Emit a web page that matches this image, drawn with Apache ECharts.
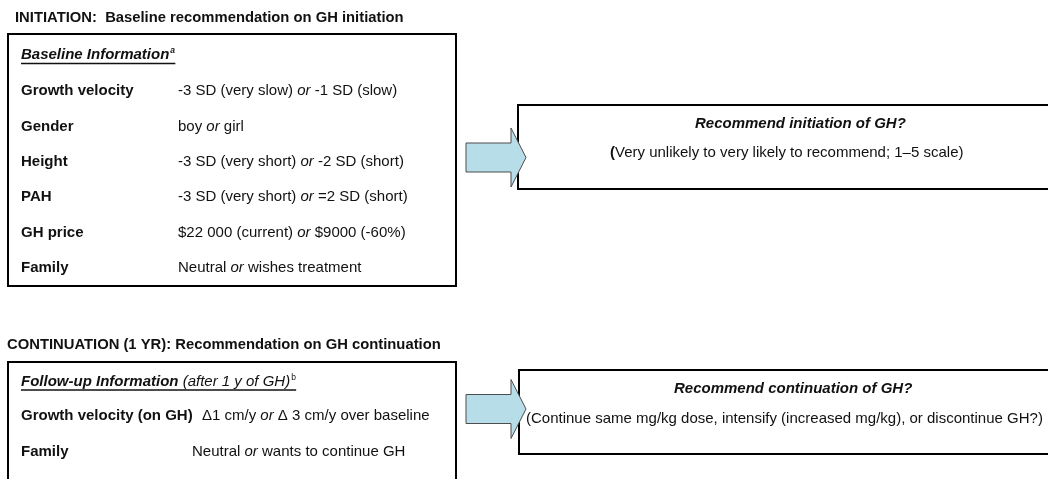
<!DOCTYPE html>
<html>
<head>
<meta charset="utf-8">
<script src="https://cdn.jsdelivr.net/npm/echarts@6/dist/echarts.min.js"></script>
<style>
  html, body { margin: 0; padding: 0; background: #fff; }
  #main { width: 1048px; height: 479px; }
</style>
</head>
<body>
<div id="main"></div>
<script>
// texts of the two decision steps
const initTitle = "INITIATION:  Baseline recommendation on GH initiation"
const baselineHeader = "Baseline Information"
const baselineNote = "a"
const baselineLabels = ["Growth velocity", "Gender", "Height", "PAH", "GH price", "Family"]
const baselineValues = [
    "-3 SD (very slow) or -1 SD (slow)",
    "boy or girl",
    "-3 SD (very short) or -2 SD (short)",
    "-3 SD (very short) or =2 SD (short)",
    "$22 000 (current) or $9000 (-60%)",
    "Neutral or wishes treatment"
]
const initQuestion = "Recommend initiation of GH?"
const initAnswer = "Very unlikely to very likely to recommend; 1\u20135 scale)"

const contTitle = "CONTINUATION (1 YR): Recommendation on GH continuation"
const followHeader = "Follow-up Information"
const followSub = " (after 1 y of GH)"
const followNote = "b"
const followLabels = ["Growth velocity (on GH)", "Family"]
const followValues = [
    "\u03941 cm/y or \u0394 3 cm/y over baseline",
    "Neutral or wants to continue GH"
]
const contQuestion = "Recommend continuation of GH?"
const contAnswer = "(Continue same mg/kg dose, intensify (increased mg/kg), or discontinue GH?)"

const FONT = "'Liberation Sans', Arial, sans-serif"
const INK = "#111"

const ctx = document.createElement("canvas").getContext("2d")
function textWidth(size, s, weight, italic) {
    ctx.font = (italic ? "italic " : "") + (weight || "normal") + " " + size + "px " + FONT
    return ctx.measureText(s).width
}

function fnt(size, weight, italic) {
    return {
        fontSize: size,
        fontFamily: FONT,
        fontWeight: weight || "normal",
        fontStyle: italic ? "italic" : "normal",
        fill: INK
    }
}

function label(x, y, text, size, weight, italic, align) {
    return {
        type: "text",
        x: x,
        y: y,
        z: 10,
        style: Object.assign({
            text: text,
            align: align || "left",
            verticalAlign: "middle"
        }, fnt(size, weight, italic))
    }
}

// value text with the word "or" set in italics
function orText(x, y, value) {
    const parts = value.split(" or ")
    return {
        type: "text",
        x: x,
        y: y,
        z: 10,
        style: Object.assign({
            text: "{n|" + parts[0] + " }{i|or}{n| " + parts[1] + "}",
            align: "left",
            verticalAlign: "middle",
            rich: {
                n: fnt(15),
                i: fnt(15, "normal", true)
            }
        }, fnt(15))
    }
}

function box(x, y, w, h) {
    return {
        type: "rect",
        z: 1,
        shape: { x: x, y: y, width: w, height: h },
        style: { fill: "#fff", stroke: "#000", lineWidth: 2 }
    }
}

function arrow(x0, cy) {
    return {
        type: "polygon",
        z: 5,
        shape: {
            points: [
                [x0, cy - 14.5], [x0 + 45, cy - 14.5], [x0 + 45, cy - 29.5],
                [x0 + 60, cy], [x0 + 45, cy + 29.5], [x0 + 45, cy + 14.5], [x0, cy + 14.5]
            ]
        },
        style: { fill: "#B7DEE8", stroke: "#4d4d4d", lineWidth: 1 }
    }
}

function underline(x, y, w) {
    return {
        type: "line",
        z: 10,
        shape: { x1: x, y1: y, x2: x + w, y2: y },
        style: { stroke: INK, lineWidth: 1.3 }
    }
}

const elements = []

// ---- initiation ----
elements.push(label(15, 18, initTitle, 14.8, "bold"))
elements.push(box(8, 34, 448, 252))
elements.push(box(518, 105, 600, 84))
elements.push(arrow(466, 157.5))

let hw = textWidth(15, baselineHeader, "bold", true)
elements.push(label(21, 55, baselineHeader, 15, "bold", true))
elements.push(label(21 + hw + 1, 51, baselineNote, 8.5, "bold", true))
elements.push(underline(21, 63.5, hw + 6))

baselineLabels.forEach((name, i) => {
    const y = 91 + i * 35.4
    elements.push(label(21, y, name, 15, "bold"))
    elements.push(orText(178, y, baselineValues[i]))
})

elements.push(label(695, 124, initQuestion, 15, "bold", true))
elements.push({
    type: "text",
    x: 610,
    y: 153,
    z: 10,
    style: Object.assign({
        text: "{b|(}{n|" + initAnswer + "}",
        align: "left",
        verticalAlign: "middle",
        rich: { b: fnt(15, "bold"), n: fnt(15) }
    }, fnt(15))
})

// ---- continuation ----
elements.push(label(7, 345, contTitle, 14.8, "bold"))
elements.push(box(8, 362, 448, 200))
elements.push(box(519, 370, 600, 84))
elements.push(arrow(466, 409))

hw = textWidth(15, followHeader, "bold", true)
const sw = textWidth(15, followSub, "normal", true)
elements.push(label(21, 382, followHeader, 15, "bold", true))
elements.push(label(21 + hw, 382, followSub, 15, "normal", true))
elements.push(label(21 + hw + sw + 1, 378, followNote, 8.5, "normal", false))
elements.push(underline(21, 390, hw + sw + 6))

const followX = [202, 192]
const followY = [416, 452]
followLabels.forEach((name, i) => {
    elements.push(label(21, followY[i], name, 15, "bold"))
    elements.push(orText(followX[i], followY[i], followValues[i]))
})

elements.push(label(674, 389, contQuestion, 15, "bold", true))
elements.push(label(526, 419, contAnswer, 15))

const chart = echarts.init(document.getElementById("main"))
chart.setOption({
    backgroundColor: "#fff",
    animation: false,
    graphic: { elements: elements }
})
</script>
</body>
</html>
